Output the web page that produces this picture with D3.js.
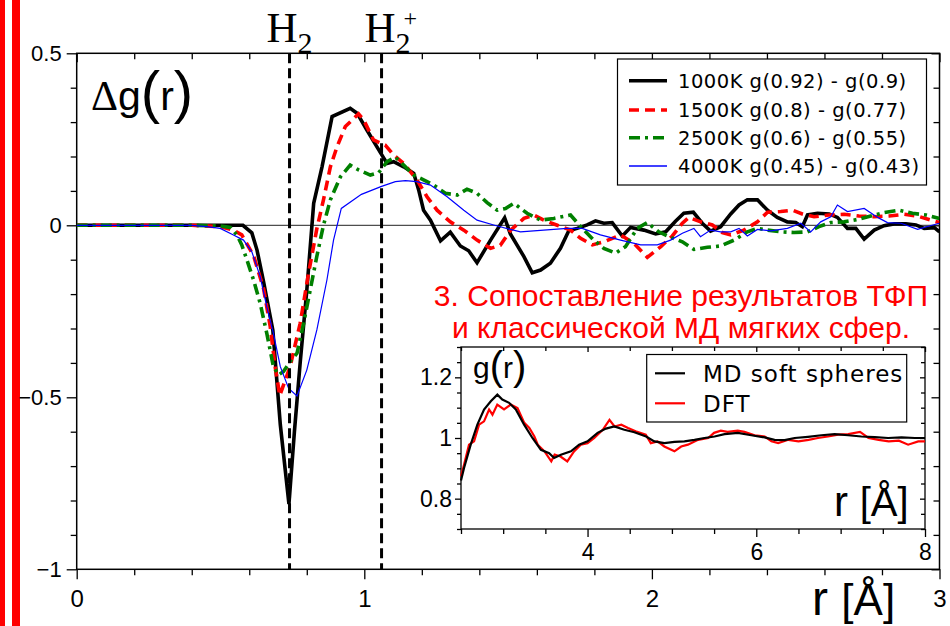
<!DOCTYPE html>
<html><head><meta charset="utf-8">
<script src="https://cdn.jsdelivr.net/npm/d3@7"></script>
<style>body{margin:0;background:#fff}svg{display:block}</style>
</head><body>
<svg id="chart" width="950" height="626"></svg>
<script>
// Δg(r) = g(ρ2) − g(ρ1) for hydrogen at four temperatures, r in Å
const dg1000K = [[0,0],[0.1,0],[0.2,0],[0.3,0],[0.4,0],[0.5,0],[0.578,0],[0.609,-0.022],[0.627,-0.072],[0.650,-0.165],[0.682,-0.305],[0.708,-0.58],[0.738,-0.81],[0.757,-0.6],[0.777,-0.40],[0.800,-0.19],[0.824,0.064],[0.853,0.17],[0.888,0.316],[0.951,0.340],[0.975,0.326],[1.009,0.277],[1.044,0.228],[1.079,0.180],[1.102,0.185],[1.137,0.170],[1.172,0.151],[1.189,0.103],[1.206,0.044],[1.23,0.015],[1.265,-0.045],[1.299,-0.020],[1.334,-0.060],[1.363,-0.074],[1.392,-0.109],[1.439,-0.043],[1.488,0.022],[1.508,-0.025],[1.555,-0.091],[1.584,-0.138],[1.613,-0.130],[1.647,-0.11],[1.682,-0.067],[1.711,-0.016],[1.74,-0.009],[1.775,0.001],[1.804,0.013],[1.833,0.006],[1.862,0.008],[1.897,-0.031],[1.926,-0.006],[1.972,-0.014],[2.013,-0.025],[2.048,-0.019],[2.082,0.012],[2.111,0.035],[2.144,0.038],[2.175,0.006],[2.204,-0.017],[2.239,-0.004],[2.274,0.033],[2.303,0.059],[2.332,0.074],[2.367,0.074],[2.402,0.044],[2.436,0.023],[2.471,0.01],[2.5,0.008],[2.523,-0.004],[2.541,0.03],[2.576,0.035],[2.616,0.033],[2.645,0.023],[2.68,-0.009],[2.709,-0.009],[2.738,-0.04],[2.773,-0.014],[2.807,-0.001],[2.842,0.004],[2.883,0.004],[2.918,0.001],[2.947,-0.009],[2.982,-0.007],[3.0,-0.019]];
const dg1500K = [[0,0],[0.1,0],[0.2,0],[0.3,0],[0.4,0],[0.5,-0.004],[0.545,-0.014],[0.574,-0.028],[0.615,-0.088],[0.65,-0.185],[0.673,-0.295],[0.69,-0.411],[0.706,-0.495],[0.742,-0.411],[0.777,-0.285],[0.806,-0.14],[0.835,-0.01],[0.858,0.074],[0.882,0.170],[0.905,0.228],[0.934,0.287],[0.98,0.324],[0.998,0.306],[1.032,0.248],[1.073,0.233],[1.102,0.204],[1.137,0.180],[1.183,0.132],[1.218,0.083],[1.253,0.044],[1.299,0.010],[1.346,-0.014],[1.392,-0.043],[1.439,-0.067],[1.473,-0.058],[1.508,-0.015],[1.555,0.020],[1.589,0.030],[1.624,0.015],[1.671,0],[1.717,-0.014],[1.752,-0.038],[1.793,-0.057],[1.833,-0.048],[1.891,-0.028],[1.937,-0.052],[1.984,-0.093],[2.031,-0.062],[2.071,-0.031],[2.106,0.006],[2.129,0.023],[2.169,0.010],[2.21,0.001],[2.245,-0.021],[2.274,-0.028],[2.32,-0.014],[2.367,0.010],[2.402,0.038],[2.448,0.04],[2.489,0.044],[2.523,0.033],[2.564,0.025],[2.616,0.030],[2.668,0.032],[2.72,0.027],[2.773,0.025],[2.825,0.027],[2.877,0.032],[2.923,0.027],[2.97,0.015],[3.0,0.008]];
const dg2500K = [[0,0],[0.1,0],[0.2,0],[0.3,0],[0.4,0],[0.5,-0.002],[0.534,-0.006],[0.557,-0.028],[0.574,-0.057],[0.592,-0.101],[0.615,-0.159],[0.638,-0.227],[0.661,-0.314],[0.684,-0.411],[0.702,-0.435],[0.719,-0.425],[0.742,-0.396],[0.766,-0.372],[0.789,-0.285],[0.812,-0.188],[0.835,-0.09],[0.858,0.0],[0.882,0.074],[0.917,0.141],[0.951,0.175],[0.980,0.161],[1.021,0.146],[1.05,0.153],[1.079,0.185],[1.108,0.198],[1.137,0.175],[1.172,0.146],[1.206,0.132],[1.241,0.117],[1.282,0.093],[1.323,0.088],[1.357,0.105],[1.392,0.093],[1.427,0.066],[1.462,0.044],[1.491,0.049],[1.52,0.064],[1.566,0.035],[1.613,0.015],[1.659,0.02],[1.717,0.030],[1.758,-0.009],[1.798,-0.043],[1.833,-0.067],[1.874,-0.081],[1.908,-0.062],[1.949,-0.009],[1.984,0.008],[2.024,-0.019],[2.065,-0.035],[2.106,-0.048],[2.146,-0.07],[2.193,-0.064],[2.239,-0.060],[2.286,-0.043],[2.332,-0.019],[2.367,-0.009],[2.402,-0.014],[2.448,-0.019],[2.494,-0.021],[2.541,-0.019],[2.581,-0.004],[2.622,0.008],[2.668,0.01],[2.715,0.017],[2.761,0.027],[2.807,0.037],[2.859,0.044],[2.906,0.035],[2.953,0.030],[3.0,0.020]];
const dg4000K = [[0,0],[0.1,0],[0.2,0],[0.3,0],[0.4,0],[0.453,-0.004],[0.499,-0.009],[0.545,-0.028],[0.580,-0.043],[0.609,-0.077],[0.638,-0.149],[0.661,-0.237],[0.684,-0.314],[0.708,-0.411],[0.737,-0.474],[0.766,-0.496],[0.80,-0.421],[0.835,-0.304],[0.870,-0.159],[0.893,-0.043],[0.920,0.049],[0.99,0.09],[1.06,0.113],[1.108,0.127],[1.143,0.130],[1.183,0.127],[1.23,0.117],[1.288,0.083],[1.346,0.044],[1.392,0.015],[1.45,0.001],[1.508,-0.012],[1.543,-0.019],[1.624,-0.014],[1.705,-0.009],[1.758,-0.009],[1.821,-0.028],[1.891,-0.043],[1.961,-0.057],[2.019,-0.057],[2.065,-0.043],[2.106,-0.023],[2.146,-0.009],[2.169,-0.033],[2.204,-0.014],[2.239,-0.019],[2.274,-0.019],[2.303,-0.009],[2.332,-0.031],[2.367,-0.012],[2.413,-0.016],[2.471,-0.009],[2.518,0.006],[2.552,-0.019],[2.587,0.010],[2.622,0.025],[2.645,0.059],[2.68,0.040],[2.738,0.049],[2.785,0.023],[2.819,0.008],[2.866,0.006],[2.924,-0.012],[2.964,-0.002],[3.0,0.006]];

// inset: radial distribution g(r), r in Å
const gMD = [[2.5,0.86],[2.536,0.901],[2.615,0.978],[2.694,1.044],[2.773,1.094],[2.853,1.121],[2.931,1.143],[2.99,1.127],[3.07,1.116],[3.15,1.094],[3.248,1.044],[3.347,1.0],[3.447,0.961],[3.545,0.950],[3.604,0.934],[3.684,0.945],[3.803,0.956],[3.9,0.978],[4.0,0.989],[4.119,1.017],[4.218,1.031],[4.317,1.038],[4.436,1.027],[4.555,1.019],[4.694,1.005],[4.792,0.989],[4.911,0.983],[5.03,0.987],[5.148,0.989],[5.267,0.994],[5.386,1.0],[5.505,1.005],[5.624,1.013],[5.782,1.017],[5.941,1.009],[6.099,1.002],[6.217,0.994],[6.336,0.993],[6.455,1.0],[6.613,1.004],[6.772,1.009],[6.93,1.013],[7.088,1.009],[7.247,1.005],[7.405,1.003],[7.563,1.0],[7.722,1.002],[7.88,1.0],[8.0,1.0]];
const gDFT = [[2.5,0.874],[2.536,0.912],[2.595,0.978],[2.655,0.989],[2.714,1.044],[2.773,1.055],[2.833,1.094],[2.873,1.077],[2.93,1.11],[3.01,1.094],[3.09,1.11],[3.17,1.099],[3.25,1.05],[3.31,1.033],[3.37,1.005],[3.41,0.978],[3.49,0.956],[3.57,0.923],[3.61,0.945],[3.68,0.939],[3.76,0.923],[3.84,0.956],[3.92,0.978],[4.0,0.983],[4.08,1.0],[4.18,1.027],[4.26,1.06],[4.32,1.038],[4.4,1.044],[4.48,1.033],[4.57,1.022],[4.69,1.011],[4.75,0.983],[4.83,0.989],[4.91,0.972],[5.03,0.956],[5.11,0.972],[5.19,0.978],[5.31,0.994],[5.43,1.0],[5.5,1.017],[5.58,1.024],[5.66,1.02],[5.78,1.024],[5.86,1.02],[5.98,1.009],[6.1,1.005],[6.18,0.989],[6.26,0.983],[6.38,0.994],[6.5,0.989],[6.62,0.994],[6.73,1.0],[6.85,1.005],[6.97,1.011],[7.09,1.013],[7.23,1.02],[7.33,1.0],[7.45,0.994],[7.57,0.989],[7.69,0.991],[7.8,0.978],[7.92,0.989],[8.0,0.989]];

const mainXTicks = [0, 1, 2, 3];
const mainYTicks = [0.5, 0, -0.5, -1];
const insetXTicks = [4, 6, 8];
const insetYTicks = [0.8, 1, 1.2];
const bondLengths = [0.74, 1.06];          // H2 and H2+ equilibrium distances
const legendLabels = ["1000K g(0.92) - g(0.9)", "1500K g(0.8) - g(0.77)", "2500K g(0.6) - g(0.55)", "4000K g(0.45) - g(0.43)"];
const insetLabels = ["MD soft spheres", "DFT"];
const captionLines = ["3. Сопоставление результатов ТФП", "и классической МД мягких сфер."];

const SANS = "'Liberation Sans', Arial, sans-serif";
const VSANS = "'DejaVu Sans', Verdana, sans-serif";
const SERIF = "'Liberation Serif', 'Times New Roman', serif";

const svg = d3.select("#chart");
svg.append("rect").attr("width", 950).attr("height", 626).attr("fill", "#fff");

// side bars
svg.append("rect").attr("x", 0).attr("y", 0).attr("width", 5).attr("height", 626).attr("fill", "#ff0000");
svg.append("rect").attr("x", 12).attr("y", 0).attr("width", 8).attr("height", 626).attr("fill", "#ff0000");

const L = 76.7, R = 939.5, T = 53.3, B = 569.3;
const x = d3.scaleLinear().domain([0, 3]).range([L, R]);
const y = d3.scaleLinear().domain([-1, 0.5]).range([B, T]);

function tickAxis(gen, tx, ty, vals, size, pad, fmt, font, fs) {
  const g = svg.append("g").attr("transform", `translate(${tx},${ty})`)
    .call(gen.tickValues(vals).tickSize(size).tickPadding(pad).tickFormat(fmt || (() => "")));
  g.select(".domain").remove();
  g.selectAll("line").attr("stroke", "#000").attr("stroke-width", 1.3);
  g.attr("font-size", null).attr("font-family", null);
  g.selectAll("text").attr("fill", "#000").attr("font-family", font || SANS).attr("font-size", fs || 21);
  return g;
}
const fmt = d3.format("~g");
const minorX = d3.range(0, 3.001, 0.2).map(v => +v.toFixed(2)).filter(v => !mainXTicks.includes(v));
const minorY = d3.range(-1, 0.501, 0.1).map(v => +v.toFixed(2)).filter(v => !mainYTicks.includes(v));

// main axes: outward on left/bottom, mirrored inward on top/right
tickAxis(d3.axisBottom(x), 0, B, mainXTicks, 10, 11, fmt, SANS, 24);
tickAxis(d3.axisBottom(x), 0, B, minorX, 6, 0);
tickAxis(d3.axisBottom(x), 0, T, mainXTicks, 9, 0);
tickAxis(d3.axisBottom(x), 0, T, minorX, 6, 0);
tickAxis(d3.axisLeft(y), L, 0, mainYTicks, 10, 5, fmt, SANS, 22);
tickAxis(d3.axisLeft(y), L, 0, minorY, 6, 0);
tickAxis(d3.axisLeft(y), R, 0, mainYTicks, 8, 0);
tickAxis(d3.axisLeft(y), R, 0, minorY, 6, 0);

svg.append("rect").attr("x", L).attr("y", T).attr("width", R - L).attr("height", B - T)
  .attr("fill", "none").attr("stroke", "#000").attr("stroke-width", 1.5);

// zero line
svg.append("line").attr("x1", L).attr("x2", R).attr("y1", y(0)).attr("y2", y(0))
  .attr("stroke", "#222").attr("stroke-width", 1);

const styles = [
  { data: dg1000K, color: "#000", width: 3.6, dash: null },
  { data: dg1500K, color: "#ff0000", width: 3.6, dash: "10,6" },
  { data: dg2500K, color: "#008000", width: 3.6, dash: "11,5,3,5" },
  { data: dg4000K, color: "#0000ff", width: 1.2, dash: null }
];
const line = d3.line().x(d => x(d[0])).y(d => y(d[1]));
svg.append("clipPath").attr("id", "plotclip").append("rect")
  .attr("x", L).attr("y", T).attr("width", R - L).attr("height", B - T);
const curves = svg.append("g").attr("clip-path", "url(#plotclip)");
styles.forEach(s => {
  curves.append("path").attr("d", line(s.data)).attr("fill", "none")
    .attr("stroke", s.color).attr("stroke-width", s.width)
    .attr("stroke-dasharray", s.dash).attr("stroke-linejoin", "miter");
});

// bond-length markers
svg.selectAll(".bond").data(bondLengths).join("line")
  .attr("x1", d => x(d)).attr("x2", d => x(d)).attr("y1", T).attr("y2", B)
  .attr("stroke", "#000").attr("stroke-width", 3).attr("stroke-dasharray", "10,5");

const hLab = svg.append("g").style("font-family", SERIF).attr("fill", "#000");
const h1 = hLab.append("text").attr("x", x(bondLengths[0]) - 23).attr("y", 42).style("font-size", "43px");
h1.append("tspan").text("H");
h1.append("tspan").attr("dy", 11).style("font-size", "30px").text("2");
const h2 = hLab.append("text").attr("x", x(bondLengths[1]) - 17).attr("y", 42).style("font-size", "43px");
h2.append("tspan").text("H");
h2.append("tspan").attr("dy", 11).style("font-size", "30px").text("2");
hLab.append("text").attr("x", x(bondLengths[1]) + 22).attr("y", 26).style("font-size", "24px").text("+");

// Δg(r) axis title
const t1 = svg.append("text").attr("x", 91).attr("y", 110).attr("fill", "#000");
t1.append("tspan").style("font-family", SERIF).style("font-size", "42px").text("Δ");
t1.append("tspan").style("font-family", SANS).style("font-size", "41px").text("g");
t1.append("tspan").attr("dy", 2).style("font-family", SANS).style("font-size", "58px").text("(");
t1.append("tspan").attr("dy", -2).style("font-family", SANS).style("font-size", "41px").text("r");
t1.append("tspan").attr("dy", 2).style("font-family", SANS).style("font-size", "58px").text(")");

// r [Å] axis title
const t2 = svg.append("text").attr("x", 812).attr("y", 615).attr("fill", "#000").style("font-family", SANS);
t2.append("tspan").style("font-size", "48px").text("r ");
t2.append("tspan").style("font-size", "44px").text("[Å]");

// legend
const lg = svg.append("g");
lg.append("rect").attr("x", 617.5).attr("y", 59).attr("width", 309).attr("height", 126)
  .attr("fill", "#fff").attr("stroke", "#000").attr("stroke-width", 1.2);
const rowsY = [80.7, 110, 137.7, 166];
styles.forEach((s, i) => {
  lg.append("line").attr("x1", 629).attr("x2", 667).attr("y1", rowsY[i]).attr("y2", rowsY[i])
    .attr("stroke", s.color).attr("stroke-width", s.width === 1.2 ? 1.3 : s.width)
    .attr("stroke-dasharray", s.dash);
  lg.append("text").attr("x", 678).attr("y", rowsY[i] + 7).attr("fill", "#000")
    .style("font-family", VSANS).style("font-size", "19.5px").style("letter-spacing", "0.5px")
    .text(legendLabels[i]);
});

// caption
captionLines.forEach((t, i) => {
  svg.append("text").attr("x", 681).attr("y", 306 + i * 32).attr("text-anchor", "middle")
    .attr("fill", "#ff0000").style("font-family", SANS).style("font-size", "30px").text(t);
});

// inset
const iL = 461, iR = 925, iT = 347, iB = 529;
const xi = d3.scaleLinear().domain([2.5, 8]).range([iL, iR]);
const yi = d3.scaleLinear().domain([0.7, 1.3]).range([iB, iT]);
svg.append("rect").attr("x", iL).attr("y", iT).attr("width", iR - iL).attr("height", iB - iT).attr("fill", "#fff");
const minorXi = d3.range(2.5, 8.001, 0.5).map(v => +v.toFixed(2)).filter(v => !insetXTicks.includes(v));
const minorYi = d3.range(0.7, 1.301, 0.05).map(v => +v.toFixed(2)).filter(v => !insetYTicks.includes(v));
tickAxis(d3.axisBottom(xi), 0, iB, insetXTicks, 8, 7, fmt, SANS, 23);
tickAxis(d3.axisBottom(xi), 0, iB, minorXi, 5, 0);
tickAxis(d3.axisLeft(yi), iL, 0, insetYTicks, 6, 3, fmt, SANS, 23);
tickAxis(d3.axisLeft(yi), iL, 0, minorYi, 4, 0);
tickAxis(d3.axisLeft(yi), iR, 0, insetYTicks, 5, 0);
tickAxis(d3.axisLeft(yi), iR, 0, minorYi, 4, 0);
tickAxis(d3.axisBottom(xi), 0, iT, insetXTicks, 5, 0);
tickAxis(d3.axisBottom(xi), 0, iT, minorXi, 4, 0);
svg.append("rect").attr("x", iL).attr("y", iT).attr("width", iR - iL).attr("height", iB - iT)
  .attr("fill", "none").attr("stroke", "#000").attr("stroke-width", 1.3);

const lineI = d3.line().x(d => xi(d[0])).y(d => yi(d[1]));
const insetStyles = [{ data: gMD, color: "#000" }, { data: gDFT, color: "#ff0000" }];
insetStyles.slice().reverse().forEach(s => {
  svg.append("path").attr("d", lineI(s.data)).attr("fill", "none")
    .attr("stroke", s.color).attr("stroke-width", 2.2);
});

const gi = svg.append("text").attr("x", 473).attr("y", 378).attr("fill", "#000").style("font-family", SANS);
gi.append("tspan").style("font-size", "30px").text("g");
gi.append("tspan").attr("dy", 2).style("font-size", "40px").text("(");
gi.append("tspan").attr("dy", -2).style("font-size", "30px").text("r");
gi.append("tspan").attr("dy", 2).style("font-size", "40px").text(")");

const ri = svg.append("text").attr("x", 834).attr("y", 516).attr("fill", "#000").style("font-family", SANS);
ri.append("tspan").style("font-size", "42px").text("r ");
ri.append("tspan").style("font-size", "40px").text("[Å]");

const il = svg.append("g");
il.append("rect").attr("x", 646.7).attr("y", 354.5).attr("width", 260).attr("height", 67.5)
  .attr("fill", "#fff").attr("stroke", "#000").attr("stroke-width", 1.2);
[373.3, 403.3].forEach((yy, i) => {
  il.append("line").attr("x1", 655).attr("x2", 685).attr("y1", yy).attr("y2", yy)
    .attr("stroke", insetStyles[i].color).attr("stroke-width", 2.2);
  il.append("text").attr("x", 703).attr("y", yy + 9).attr("fill", "#000")
    .style("font-family", VSANS).style("font-size", "23px").style("letter-spacing", "1px")
    .text(insetLabels[i]);
});
</script>
</body></html>
